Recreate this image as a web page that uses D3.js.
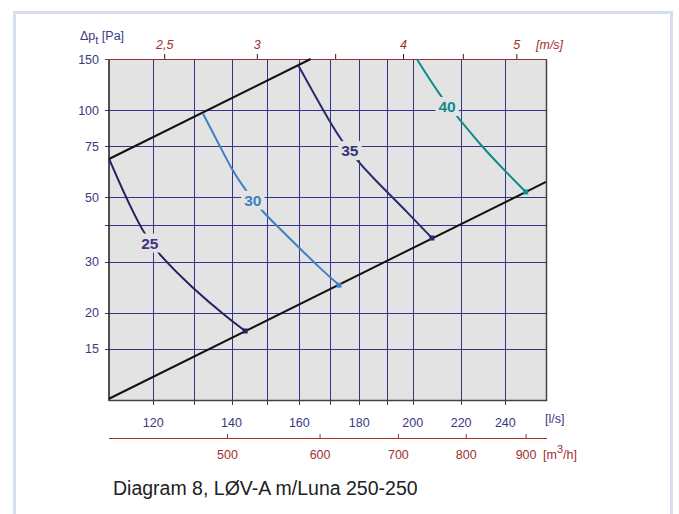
<!DOCTYPE html>
<html>
<head>
<meta charset="utf-8">
<script src="https://cdn.jsdelivr.net/npm/d3@7"></script>
<style>
  body { margin: 0; background: #fff; }
  text { font-family: "Liberation Sans", Arial, sans-serif; }
</style>
</head>
<body>
<div id="chart"></div>
<script>
// flow [l/s] vs pressure drop [Pa]
var curve25 = [[110, 68], [113.3, 51.6], [117.5, 38.1], [121.4, 31.6], [129.7, 24.3], [138.5, 19.4], [143.8, 17.3]];
var curve30 = [[132.3, 97.5], [136.7, 75.7], [140.4, 61.3], [143.6, 53.7], [148.5, 44.9], [153.9, 39.1], [160.1, 33.4], [166.6, 28.5], [173.0, 24.9]];
var curve35 = [[159.6, 143], [164.9, 112.6], [169.9, 91.1], [173.9, 78.2], [179.7, 66.3], [185.1, 58.2], [191.3, 50.9], [197.7, 44.6], [207.7, 36.2]];
var curve40 = [[201.6, 150], [211.3, 111.1], [218.6, 94.4], [229.2, 74.7], [240.2, 61.3], [249.8, 52.2]];
var upperLimit = [[110, 67.8], [163.6, 150]];
var lowerLimit = [[110, 10.1], [260, 56.5]];

var curveNames = ["25", "30", "35", "40"];
var labelPos = [[119.2, 34.8], [146.0, 48.9], [176.7, 72.5], [214.0, 102.9]];

var flowGrid = [120, 130, 140, 150, 160, 170, 180, 190, 200, 220, 240];
var flowLabels = [120, 140, 160, 180, 200, 220, 240];
var dpGrid = [15, 20, 30, 40, 50, 75, 100];
var dpLabels = [15, 20, 30, 50, 75, 100, 150];
var velTicks = [2.5, 3, 3.5, 4, 4.5, 5];
var velLabels = [2.5, 3, 4, 5];
var m3hTicks = [500, 600, 700, 800, 900];

var ductArea = 0.0491; // m2, for the m/s scale

var W = 679, H = 514;
var pLeft = 109, pRight = 546, pTop = 59, pBottom = 400;

var svg = d3.select("#chart").append("svg")
    .attr("width", W)
    .attr("height", H);

    //light outer frame
svg.append("rect")
    .attr("x", 14.5).attr("y", 12.5)
    .attr("width", 657).attr("height", 540)
    .attr("fill", "none")
    .attr("stroke", "#d7def2")
    .attr("stroke-width", 3);

var x = d3.scaleLog().domain([110, 260]).range([pLeft, pRight]);
var y = d3.scaleLog().domain([10, 150]).range([pBottom, pTop]);
var xv = d3.scaleLog().domain([110 / 1000 / ductArea, 260 / 1000 / ductArea]).range([pLeft, pRight]);
var xm = d3.scaleLog().domain([110 * 3.6, 260 * 3.6]).range([pLeft, pRight]);

svg.append("rect")
    .attr("x", pLeft).attr("y", pTop)
    .attr("width", pRight - pLeft).attr("height", pBottom - pTop)
    .attr("fill", "#e3e3e3");

var gridColor = "#34348a";

svg.append("g").selectAll("line")
    .data(flowGrid)
    .enter().append("line")
    .attr("x1", function (d) { return Math.round(x(d)) + 0.5; })
    .attr("x2", function (d) { return Math.round(x(d)) + 0.5; })
    .attr("y1", pTop).attr("y2", pBottom + 5)
    .attr("stroke", gridColor);

svg.append("g").selectAll("line")
    .data(dpGrid)
    .enter().append("line")
    .attr("y1", function (d) { return Math.round(y(d)) + 0.5; })
    .attr("y2", function (d) { return Math.round(y(d)) + 0.5; })
    .attr("x1", pLeft - 4).attr("x2", pRight)
    .attr("stroke", gridColor);

    //plot border
svg.append("line").attr("x1", pLeft).attr("x2", pLeft).attr("y1", pTop).attr("y2", pBottom + 1)
    .attr("stroke", "#1a1a1a").attr("stroke-width", 1.5);
svg.append("line").attr("x1", pLeft).attr("x2", pRight + 1).attr("y1", pBottom + 0.5).attr("y2", pBottom + 0.5)
    .attr("stroke", "#444").attr("stroke-width", 1.5);
svg.append("line").attr("x1", pRight + 0.5).attr("x2", pRight + 0.5).attr("y1", pTop).attr("y2", pBottom + 1)
    .attr("stroke", "#444").attr("stroke-width", 1.5);
svg.append("line").attr("x1", pLeft - 4).attr("x2", pRight + 1).attr("y1", pTop + 0.5).attr("y2", pTop + 0.5)
    .attr("stroke", "#9b2f33").attr("stroke-width", 1.2);

    //velocity ticks on top
svg.append("g").selectAll("line")
    .data(velTicks)
    .enter().append("line")
    .attr("x1", function (d) { return xv(d); })
    .attr("x2", function (d) { return xv(d); })
    .attr("y1", pTop).attr("y2", pTop - 5)
    .attr("stroke", "#222");

svg.append("g").selectAll("text")
    .data(velLabels)
    .enter().append("text")
    .attr("x", function (d) { return xv(d); })
    .attr("y", 49)
    .attr("text-anchor", "middle")
    .attr("fill", "#a0302f")
    .style("font-size", "12.5px")
    .style("font-style", "italic")
    .text(function (d) { return String(d).replace(".", ","); });

svg.append("text")
    .attr("x", 536).attr("y", 49)
    .attr("fill", "#a0302f")
    .style("font-size", "12.5px")
    .style("font-style", "italic")
    .text("[m/s]");

    //y labels
svg.append("g").selectAll("text")
    .data(dpLabels)
    .enter().append("text")
    .attr("x", 99)
    .attr("y", function (d) { return y(d); })
    .attr("dy", "0.36em")
    .attr("text-anchor", "end")
    .attr("fill", "#3a3a82")
    .style("font-size", "12.5px")
    .text(function (d) { return d; });

var yTitle = svg.append("text")
    .attr("x", 80).attr("y", 40)
    .attr("fill", "#3a3a82")
    .style("font-size", "12.5px");
yTitle.append("tspan").text("\u0394p");
yTitle.append("tspan").attr("dy", 4).style("font-size", "11px").text("t");
yTitle.append("tspan").attr("dy", -4).text(" [Pa]");

    //l/s labels
svg.append("g").selectAll("text")
    .data(flowLabels)
    .enter().append("text")
    .attr("x", function (d) { return x(d); })
    .attr("y", 427)
    .attr("text-anchor", "middle")
    .attr("fill", "#3a3a82")
    .style("font-size", "12.5px")
    .text(function (d) { return d; });

svg.append("text")
    .attr("x", 545).attr("y", 423)
    .attr("fill", "#3a3a82")
    .style("font-size", "12.5px")
    .text("[l/s]");

    //m3/h axis
svg.append("line")
    .attr("x1", pLeft).attr("x2", pRight + 1)
    .attr("y1", 438.5).attr("y2", 438.5)
    .attr("stroke", "#a0302f").attr("stroke-width", 1.2);

svg.append("g").selectAll("line")
    .data(m3hTicks)
    .enter().append("line")
    .attr("x1", function (d) { return xm(d); })
    .attr("x2", function (d) { return xm(d); })
    .attr("y1", 438).attr("y2", 434)
    .attr("stroke", "#a0302f");

svg.append("g").selectAll("text")
    .data(m3hTicks)
    .enter().append("text")
    .attr("x", function (d) { return xm(d); })
    .attr("y", 459)
    .attr("text-anchor", "middle")
    .attr("fill", "#a0302f")
    .style("font-size", "12.5px")
    .text(function (d) { return d; });

var m3 = svg.append("text")
    .attr("x", 543).attr("y", 459)
    .attr("fill", "#a0302f")
    .style("font-size", "12.5px");
m3.append("tspan").text("[m");
m3.append("tspan").attr("dy", -6).style("font-size", "11px").text("3");
m3.append("tspan").attr("dy", 6).text("/h]");

    //limit lines
var line = d3.line()
    .x(function (d) { return x(d[0]); })
    .y(function (d) { return y(d[1]); });

var plot = svg.append("g");

[upperLimit, lowerLimit].forEach(function (d) {
    plot.append("path")
        .attr("d", line(d))
        .attr("fill", "none")
        .attr("stroke", "#111")
        .attr("stroke-width", 2);
});

    //sound level curves
var curveLine = d3.line()
    .x(function (d) { return x(d[0]); })
    .y(function (d) { return y(d[1]); })
    .curve(d3.curveBasis);

var curves = [curve25, curve30, curve35, curve40];
var lineColors = ["#25215f", "#3f7fc6", "#2a2a6e", "#0f8b8c"];
var textColors = ["#4a2e84", "#3f7fc6", "#35337c", "#0f8b8c"];

curves.forEach(function (c, i) {
    plot.append("path")
        .attr("d", curveLine(c))
        .attr("fill", "none")
        .attr("stroke", lineColors[i])
        .attr("stroke-width", 2);

    var last = c[c.length - 1];
    plot.append("rect")
        .attr("x", x(last[0]) - 2.5).attr("y", y(last[1]) - 2.5)
        .attr("width", 5).attr("height", 5)
        .attr("fill", lineColors[i]);

    var lx = x(labelPos[i][0]), ly = y(labelPos[i][1]);
    var g = plot.append("g");
    var bg = g.append("rect").attr("fill", "#e3e3e3");
    var t = g.append("text")
        .attr("x", lx).attr("y", ly)
        .attr("dy", "0.36em")
        .attr("text-anchor", "middle")
        .attr("fill", textColors[i])
        .style("font-size", "15.5px")
        .style("font-weight", "bold")
        .text(curveNames[i]);
    var bb = t.node().getBBox();
    bg.attr("x", bb.x - 3).attr("y", bb.y - 1)
        .attr("width", bb.width + 6).attr("height", bb.height + 2);
});

svg.append("text")
    .attr("x", 113).attr("y", 495)
    .attr("fill", "#222")
    .style("font-size", "19.5px")
    .text("Diagram 8, L\u00d8V-A m/Luna 250-250");
</script>
</body>
</html>
